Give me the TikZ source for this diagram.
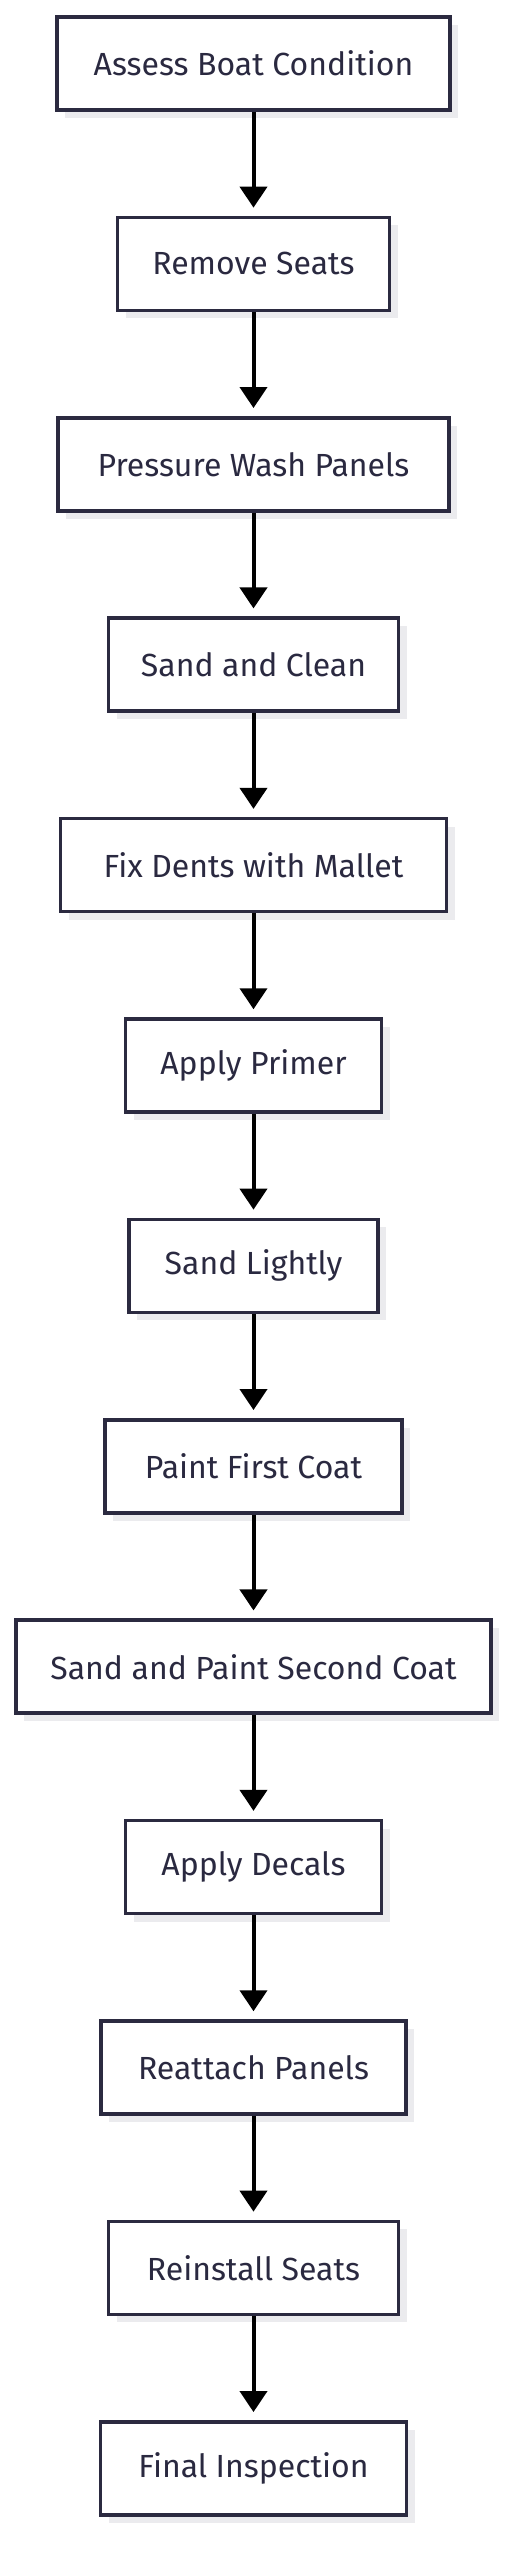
\documentclass[tikz,border=0pt]{standalone}
\usepackage{fontspec}
\setmainfont{Fira Sans}
\usetikzlibrary{arrows.meta,shadows}
\definecolor{boxline}{HTML}{2B2A40}
\definecolor{boxtext}{HTML}{2A2940}
\definecolor{shadowgray}{HTML}{EBEBEE}
\begin{document}
\begin{tikzpicture}[x=1pt, y=-1pt,
  box/.style={draw=boxline, line width=3.5pt, fill=white, minimum height=93pt, inner sep=0pt,
    text=boxtext, font=\fontsize{32}{38}\selectfont,
    drop shadow={shadow xshift=8pt, shadow yshift=-8pt, fill=shadowgray, opacity=1}},
  flow/.style={line width=4pt, -{Triangle[width=27pt,length=21pt]}, shorten >=8pt}]
\useasboundingbox (0,0) rectangle (512,2560);
\node[box, minimum width=393pt] (box0) at (253.5,63.5){Assess Boat Condition};
\node[box, minimum width=272pt] (box1) at (253.5,263.9){Remove Seats};
\node[box, minimum width=391pt] (box2) at (253.5,464.3){Pressure Wash Panels};
\node[box, minimum width=290pt] (box3) at (253.5,664.7){Sand and Clean};
\node[box, minimum width=386pt] (box4) at (253.5,865.1){Fix Dents with Mallet};
\node[box, minimum width=256pt] (box5) at (253.5,1065.5){Apply Primer};
\node[box, minimum width=249pt] (box6) at (253.5,1265.9){Sand Lightly};
\node[box, minimum width=297pt] (box7) at (253.5,1466.3){Paint First Coat};
\node[box, minimum width=475pt] (box8) at (253.5,1666.7){Sand and Paint Second Coat};
\node[box, minimum width=256pt] (box9) at (253.5,1867.1){Apply Decals};
\node[box, minimum width=305pt] (box10) at (253.5,2067.5){Reattach Panels};
\node[box, minimum width=290pt] (box11) at (253.5,2267.9){Reinstall Seats};
\node[box, minimum width=306pt] (box12) at (253.5,2468.3){Final Inspection};
\draw[flow](box0) -- (box1);
\draw[flow](box1) -- (box2);
\draw[flow](box2) -- (box3);
\draw[flow](box3) -- (box4);
\draw[flow](box4) -- (box5);
\draw[flow](box5) -- (box6);
\draw[flow](box6) -- (box7);
\draw[flow](box7) -- (box8);
\draw[flow](box8) -- (box9);
\draw[flow](box9) -- (box10);
\draw[flow](box10) -- (box11);
\draw[flow](box11) -- (box12);

\end{tikzpicture}
\end{document}
